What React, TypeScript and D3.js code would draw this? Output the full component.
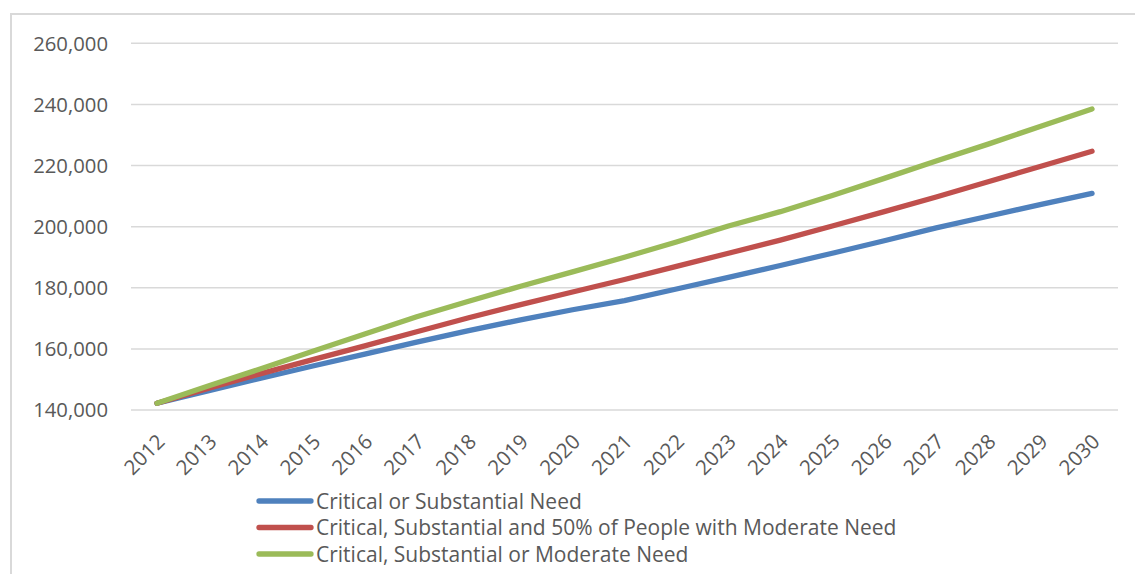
import React from "react";
import * as d3 from "d3";

const years = ["2012","2013","2014","2015","2016","2017","2018","2019","2020","2021","2022","2023","2024","2025","2026","2027","2028","2029","2030"];
const criticalSubstantial = [142200,146300,150400,154400,158300,162200,166000,169500,172800,175800,179600,183400,187300,191300,195400,199600,203400,207200,210900];
const criticalSubstantialHalfModerate = [142200,147100,151900,156500,161000,165600,170200,174500,178600,182700,187000,191300,195600,200200,204900,209700,214700,219700,224700];
const criticalSubstantialModerate = [142200,147900,153500,159200,164900,170500,175600,180500,185200,190000,195000,200200,204900,210200,215800,221500,227000,232800,238500];
const yTicks = [140000,160000,180000,200000,220000,240000,260000];

const seriesNames = [
  "Critical or Substantial Need",
  "Critical, Substantial and 50% of People with Moderate Need",
  "Critical, Substantial or Moderate Need",
];
const seriesColors = ["#4F81BD", "#C0504D", "#9BBB59"];
const seriesValues = [criticalSubstantial, criticalSubstantialHalfModerate, criticalSubstantialModerate];

const FONT = "'Open Sans', 'Noto Sans', sans-serif";
const TEXT = "#595959";

export default function App() {
  const x = d3.scaleBand<string>().domain(years).range([131, 1118]).padding(0);
  const cx = (y: string) => (x(y) as number) + x.bandwidth() / 2;
  const y = d3.scaleLinear().domain([140000, 260000]).range([410, 43.3]);
  const fmt = d3.format(",");
  const line = d3
    .line<number>()
    .x((_, i) => cx(years[i]))
    .y((v) => y(v));

  return (
    <svg
      width={1135}
      height={574}
      style={{ position: "absolute", left: 0, top: 0, background: "#fff" }}
    >
      <rect x={0} y={0} width={1135} height={574} fill="#fff" />
      <rect x={11} y={14} width={1140} height={580} fill="none" stroke="#D9D9D9" strokeWidth={2} />
      {yTicks.map((t) => (
        <g key={t}>
          <line x1={131} x2={1118} y1={y(t)} y2={y(t)} stroke="#D9D9D9" strokeWidth={1.5} />
          <text
            x={108}
            y={y(t)}
            dy="0.36em"
            textAnchor="end"
            fontFamily={FONT}
            fontSize={20.3}
            fill={TEXT}
          >
            {fmt(t)}
          </text>
        </g>
      ))}
      {years.map((yr) => (
        <text
          key={yr}
          transform={`translate(${cx(yr) + 9},${443}) rotate(-45)`}
          textAnchor="end"
          fontFamily={FONT}
          fontSize={20.5}
          fill={TEXT}
        >
          {yr}
        </text>
      ))}
      {seriesValues.map((vals, i) => (
        <path
          key={i}
          d={line(vals) || ""}
          fill="none"
          stroke={seriesColors[i]}
          strokeWidth={5.3}
          strokeLinecap="round"
          strokeLinejoin="round"
        />
      ))}
      {seriesNames.map((name, i) => {
        const ly = 501 + i * 26.5;
        return (
          <g key={name}>
            <line x1={259} x2={311} y1={ly} y2={ly} stroke={seriesColors[i]} strokeWidth={5.3} strokeLinecap="round" />
            <text x={316} y={ly} dy="0.36em" fontFamily={FONT} fontSize={21} fill={TEXT}>
              {name}
            </text>
          </g>
        );
      })}
    </svg>
  );
}
